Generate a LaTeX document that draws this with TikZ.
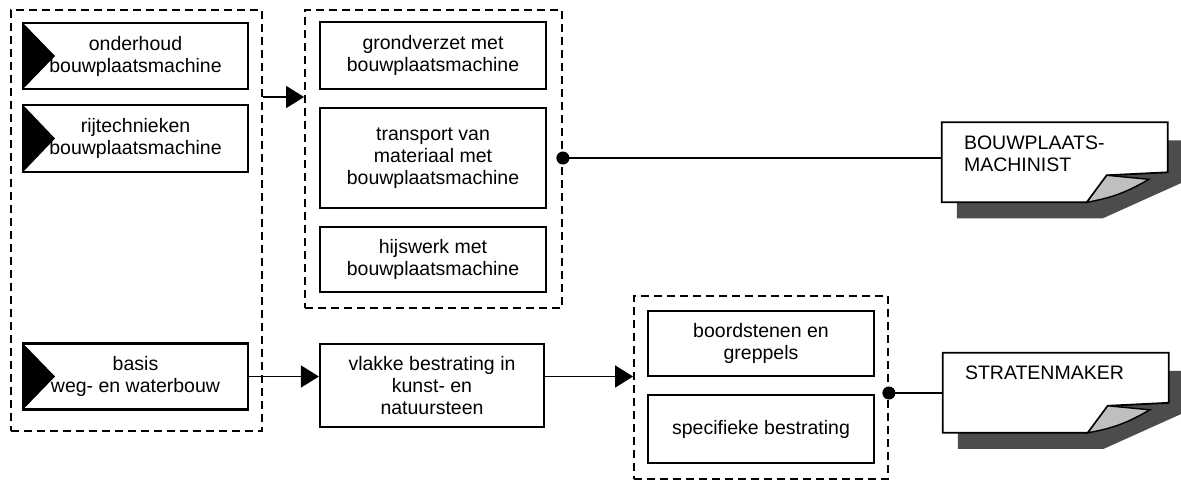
\documentclass[tikz,border=0pt]{standalone}
\usepackage{fontspec}
\setmainfont{Liberation Sans}
\usetikzlibrary{arrows.meta,calc}

\tikzset{
  x=1pt, y=-1pt,
  every node/.style={font=\fontsize{19.5}{22}\selectfont, inner sep=0pt},
  unit/.style={draw, line width=2.2pt, minimum width=226pt, align=center},
  entry/.style={unit, minimum width=225pt,
    path picture={\fill (path picture bounding box.north west)
      -- ([xshift=32pt]path picture bounding box.west)
      -- (path picture bounding box.south west) -- cycle;}},
  cluster/.style={draw, line width=1.8pt, dash pattern=on 8pt off 5pt},
  feed/.style={line width=1.6pt, -{Triangle[length=18pt,width=22pt]}},
  link/.style={line width=1.6pt, {Circle[length=13pt]}-, shorten <=-6.5pt},
  memo/.style={minimum width=226pt, minimum height=80pt},
}

% note with turned-up corner and shadow
\newcommand\memo[2]{%
  \fill[black!70] ($(#1.north west)+(15,18)$) -- ++(226,0) -- ++(0,42)
    -- ++(-80,36) -- ++(-146,0) -- cycle;
  \filldraw[fill=white, line width=1.8pt] (#1.north west) -- ++(226,0)
    -- ++(0,50) -- ++(-61,3) -- ++(-20,27) -- ++(-145,0) -- cycle;
  \filldraw[fill=black!25, line width=1.4pt] ($(#1.north west)+(165,53)$)
    -- ++(-20,27) to[bend right=10] ++(62,-23) -- cycle;
  \node[anchor=north west, align=left] (#1-txt) at ($(#1.north west)+(22,13)$) {#2};
}

\begin{document}
\begin{tikzpicture}
\useasboundingbox (0,0) rectangle (1181,483);

% groups
\node[cluster, minimum width=251pt, minimum height=421pt] (left) at (136.5,220.5) {};
\node[cluster, minimum width=257pt, minimum height=298pt] (mid) at (433.5,159) {};
\node[cluster, minimum width=254pt, minimum height=183pt] (right) at (761,387.5) {};

% entry units
\node[entry, minimum height=66pt] (ond) at (135.5,56) {onderhoud\\bouwplaatsmachine};
\node[entry, minimum height=67pt] (rij) at (135.5,138.5) {rijtechnieken\\bouwplaatsmachine};
\node[entry, minimum height=66pt] (bas) at (135.5,376.5) {basis\\weg- en waterbouw};

% units
\node[unit, minimum height=67pt] (grond) at (433,55.5) {grondverzet met\\bouwplaatsmachine};
\node[unit, minimum height=100pt] (trans) at (433,158) {transport van\\materiaal met\\bouwplaatsmachine};
\node[unit, minimum height=65pt] (hijs) at (433,259.5) {hijswerk met\\bouwplaatsmachine};
\node[unit, minimum width=224pt, minimum height=83pt] (vlak) at (432,385.5) {vlakke bestrating in\\kunst- en\\natuursteen};
\node[unit, minimum height=65pt] (boord) at (761,343.5) {boordstenen en\\greppels};
\node[unit, minimum height=68pt] (spec) at (761,429) {specifieke bestrating};

% qualifications
\node[memo] (bm) at (1055,162.5) {};
\memo{bm}{BOUWPLAATS-\\MACHINIST}
\node[memo] (sm) at (1056,393) {};
\memo{sm}{STRATENMAKER}

% connectors
\coordinate (gap) at ($(ond.south)!0.5!(rij.north)$);
\draw[feed] (gap -| left.east) -- (gap -| mid.west);
\draw[link] (trans -| mid.east) -- (trans -| bm.west);
\draw[feed] (bas.east) -- (bas -| vlak.west);
\draw[feed] (bas -| vlak.east) -- (bas -| right.west);
\draw[link] (sm.west -| right.east) -- (sm.west);
\end{tikzpicture}
\end{document}
